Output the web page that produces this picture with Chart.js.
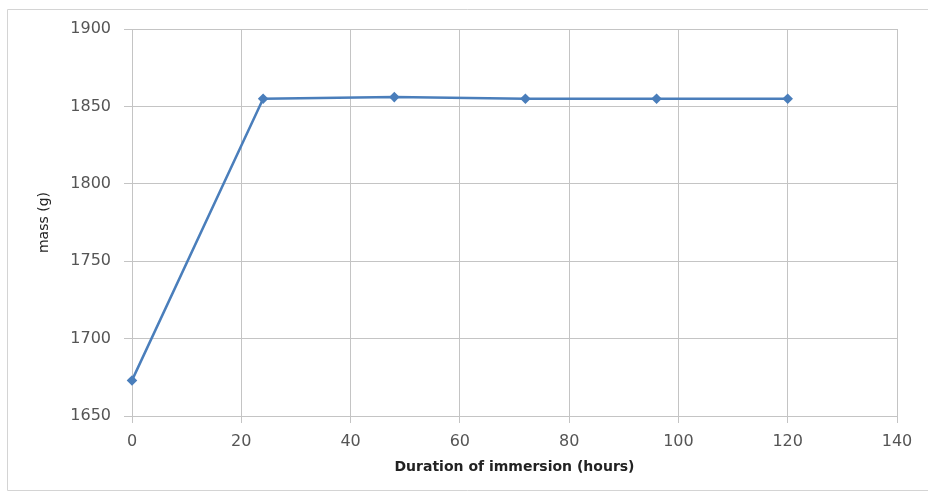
<!DOCTYPE html>
<html>
<head>
<meta charset="utf-8">
<script src="https://cdn.jsdelivr.net/npm/chart.js@4/dist/chart.umd.min.js"></script>
<style>
  html, body { margin: 0; padding: 0; background: #fff; }
  #wrap { width: 928px; height: 496px; }
</style>
</head>
<body>
<div id="wrap"><canvas id="chart" width="928" height="496"></canvas></div>
<script>
// values
const hours = [0, 24, 48, 72, 96, 120];
const mass = [1673, 1855, 1856, 1855, 1855, 1855];
const xTicks = [0, 20, 40, 60, 80, 100, 120, 140];
const yTicks = [1650, 1700, 1750, 1800, 1850, 1900];

const gridColor = '#c4c4c4';
const tickColor = '#555555';

// light frame round the whole chart, like the exported picture
const framePlugin = {
    id: 'frame',
    beforeDraw(chart) {
        const ctx = chart.ctx;
        ctx.save();
        ctx.strokeStyle = '#d4d4d4';
        ctx.lineWidth = 1;
        ctx.beginPath();
        ctx.moveTo(928, 9.5);
        ctx.lineTo(7.5, 9.5);
        ctx.lineTo(7.5, 490.5);
        ctx.lineTo(928, 490.5);
        ctx.stroke();
        ctx.restore();
    }
};

new Chart(document.getElementById('chart'), {
    type: 'line',
    data: {
        datasets: [{
            label: 'mass',
            data: hours.map((h, i) => ({x: h, y: mass[i]})),
            borderColor: '#4a7ebb',
            backgroundColor: '#4a7ebb',
            borderWidth: 2.5,
            pointStyle: 'rectRot',
            pointRadius: 3.5,
            tension: 0,
            fill: false,
            clip: false
        }]
    },
    options: {
        responsive: false,
        animation: false,
        layout: {padding: {left: 8, top: 29, right: 31, bottom: 10}},
        plugins: {legend: {display: false}, tooltip: {enabled: false}},
        scales: {
            x: {
                type: 'linear',
                min: xTicks[0],
                max: xTicks[xTicks.length - 1],
                afterBuildTicks: s => { s.ticks = xTicks.map(v => ({value: v})); },
                afterFit: s => { s.height = 70; },
                grid: {color: gridColor, tickLength: 7, tickColor: gridColor},
                border: {color: gridColor},
                ticks: {color: tickColor, padding: 9, maxRotation: 0,
                        callback: v => String(v),
                        font: {family: 'DejaVu Sans', size: 16}},
                title: {display: true, text: 'Duration of immersion (hours)', color: '#222',
                        padding: {top: 0, bottom: 10},
                        font: {family: 'DejaVu Sans', size: 14, weight: 'bold'}}
            },
            y: {
                min: yTicks[0],
                max: yTicks[yTicks.length - 1],
                afterBuildTicks: s => { s.ticks = yTicks.map(v => ({value: v})); },
                afterFit: s => { s.width = 124; },
                grid: {color: gridColor, tickLength: 8, tickColor: gridColor},
                border: {color: gridColor},
                ticks: {color: tickColor, padding: 13,
                        callback: v => String(v),
                        font: {family: 'DejaVu Sans', size: 16}},
                title: {display: true, text: 'mass (g)', color: '#222',
                        padding: {top: 28, bottom: 0},
                        font: {family: 'DejaVu Sans', size: 14}}
            }
        }
    },
    plugins: [framePlugin]
});
</script>
</body>
</html>
